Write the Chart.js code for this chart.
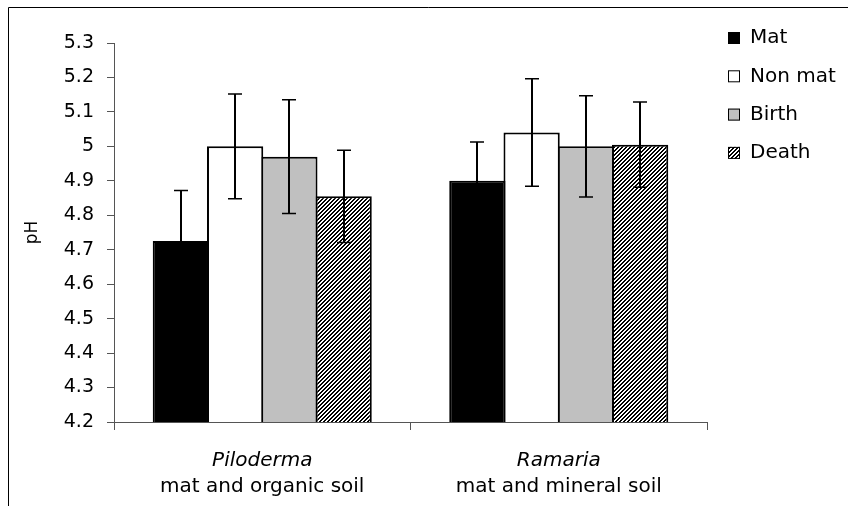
<!DOCTYPE html>
<html>
<head>
<meta charset="utf-8">
<script src="https://cdn.jsdelivr.net/npm/chart.js@4.4.1/dist/chart.umd.min.js"></script>
<style>
  html, body { margin: 0; padding: 0; background: #fff; }
  canvas { display: block; }
</style>
</head>
<body>
<canvas id="phChart" width="848" height="506"></canvas>
<script>
// soil pH under fungal mats, two sites
const genera = ['Piloderma', 'Ramaria'];
const soils = ['mat and organic soil', 'mat and mineral soil'];
const seriesNames = ['Mat', 'Non mat', 'Birth', 'Death'];

const mat = [4.725, 4.90];
const nonMat = [5.00, 5.04];
const birth = [4.97, 5.00];
const death = [4.855, 5.005];

const matErr = [0.147, 0.113];
const nonMatErr = [0.152, 0.156];
const birthErr = [0.165, 0.147];
const deathErr = [0.134, 0.124];

const yMin = 4.2;
const yMax = 5.3;
const yStep = 0.1;

const FONT = 'DejaVu Sans';
const AXIS = '#555';

const canvas = document.getElementById('phChart');
const ctx = canvas.getContext('2d');

// diagonal "/" stripes for the Death bars
function stripes() {
  const c = document.createElement('canvas');
  c.width = 4; c.height = 4;
  const g = c.getContext('2d');
  const img = g.createImageData(4, 4);
  for (let y = 0; y < 4; y++) {
    for (let x = 0; x < 4; x++) {
      const v = (x + y) % 4 < 2 ? 0 : 255;
      const i = (y * 4 + x) * 4;
      img.data[i] = img.data[i + 1] = img.data[i + 2] = v;
      img.data[i + 3] = 255;
    }
  }
  g.putImageData(img, 0, 0);
  return ctx.createPattern(c, 'repeat');
}

const fills = ['#000000', '#ffffff', '#c0c0c0', stripes()];
const values = [mat, nonMat, birth, death];
const errs = [matErr, nonMatErr, birthErr, deathErr];

const frame = {
  id: 'frame',
  beforeDraw(chart) {
    const c = chart.ctx;
    c.save();
    c.fillStyle = '#fff';
    c.fillRect(0, 0, chart.width, chart.height);
    c.strokeStyle = '#000';
    c.lineWidth = 1;
    c.beginPath();
    c.moveTo(8.5, chart.height);
    c.lineTo(8.5, 7.5);
    c.lineTo(chart.width, 7.5);
    c.stroke();
    c.restore();
  }
};

const errorBars = {
  id: 'errorBars',
  afterDatasetsDraw(chart) {
    const c = chart.ctx;
    const y = chart.scales.y;
    c.save();
    c.strokeStyle = '#000';
    chart.data.datasets.forEach((ds, i) => {
      chart.getDatasetMeta(i).data.forEach((bar, j) => {
        const x = Math.round(bar.x);
        const top = y.getPixelForValue(ds.data[j] + ds.errors[j]);
        const bot = y.getPixelForValue(ds.data[j] - ds.errors[j]);
        c.lineWidth = 2;
        c.beginPath();
        c.moveTo(x, top);
        c.lineTo(x, bot);
        c.stroke();
        c.lineWidth = 1.5;
        c.beginPath();
        c.moveTo(x - 7, top); c.lineTo(x + 7, top);
        c.moveTo(x - 7, bot); c.lineTo(x + 7, bot);
        c.stroke();
      });
    });
    c.restore();
  }
};

const sideLegend = {
  id: 'sideLegend',
  afterDraw(chart) {
    const c = chart.ctx;
    const left = chart.chartArea.right + 21;
    c.save();
    c.font = '20px "' + FONT + '"';
    c.textBaseline = 'middle';
    chart.data.datasets.forEach((ds, i) => {
      const cy = 38 + i * 38.3;
      c.fillStyle = ds.backgroundColor;
      c.fillRect(left, cy - 6, 12, 12);
      c.strokeStyle = '#000';
      c.lineWidth = 1;
      c.strokeRect(left + 0.5, cy - 5.5, 11, 11);
      c.fillStyle = '#000';
      c.fillText(ds.label, left + 22, cy);
    });
    c.restore();
  }
};

new Chart(ctx, {
  type: 'bar',
  data: {
    labels: genera,
    datasets: seriesNames.map((name, i) => ({
      label: name,
      data: values[i],
      errors: errs[i],
      backgroundColor: fills[i],
      borderColor: '#000',
      borderWidth: 2,
      borderSkipped: 'start'
    }))
  },
  options: {
    responsive: false,
    animation: false,
    devicePixelRatio: 1,
    layout: { padding: { left: 0, top: 43, right: 141, bottom: 0 } },
    categoryPercentage: 0.732,
    barPercentage: 1.037,
    plugins: {
      legend: { display: false },
      tooltip: { enabled: false }
    },
    scales: {
      x: {
        weight: 0,
        grid: { offset: true, drawOnChartArea: false, tickLength: 8, color: AXIS },
        border: { color: AXIS },
        ticks: {
          color: '#000',
          font: { family: FONT, size: 20, style: 'italic' },
          padding: 19,
          maxRotation: 0,
          autoSkip: false
        },
        afterFit(s) { s.height = 52; }
      },
      x2: {
        type: 'category',
        labels: soils,
        position: 'bottom',
        weight: 1,
        grid: { display: false, drawTicks: false },
        border: { display: false },
        ticks: {
          color: '#000',
          font: { family: FONT, size: 20 },
          padding: 1,
          maxRotation: 0,
          autoSkip: false
        },
        afterFit(s) { s.height = 32; }
      },
      y: {
        min: yMin,
        max: yMax,
        grid: { drawOnChartArea: false, tickLength: 7, color: AXIS },
        border: { color: AXIS },
        ticks: {
          stepSize: yStep,
          color: '#000',
          font: { family: FONT, size: 19 },
          padding: 13,
          callback: v => String(+v.toFixed(1))
        },
        title: {
          display: true,
          text: 'pH',
          color: '#000',
          font: { family: FONT, size: 17 },
          padding: { top: 22, bottom: 0 }
        },
        afterFit(s) { s.width = 114; }
      }
    }
  },
  plugins: [frame, errorBars, sideLegend]
});
</script>
</body>
</html>
